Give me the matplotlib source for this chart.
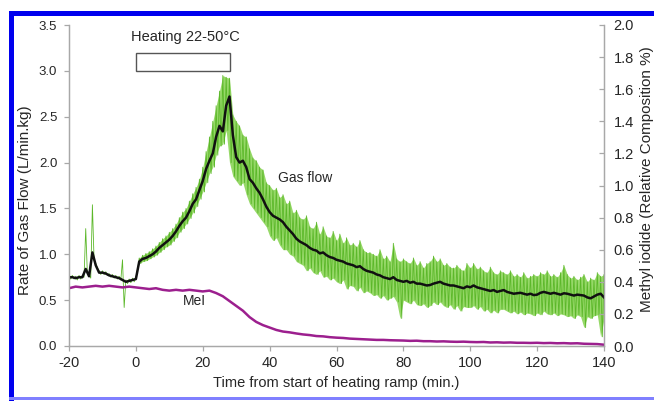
import numpy as np
import matplotlib
matplotlib.use('Agg')
import matplotlib.pyplot as plt
from matplotlib.patches import Rectangle

plt.rcParams['font.family'] = ['Liberation Sans', 'DejaVu Sans']
plt.rcParams['axes.unicode_minus'] = False

# time axis (min), 1-min steps from -20 to 140
t = np.arange(-20, 141)

# smoothed gas flow (black), L/min.kg
gas_smooth = [
    0.75, 0.75, 0.74, 0.75, 0.75, 0.84, 0.76, 1.02, 0.88, 0.80,
    0.80, 0.79, 0.77, 0.76, 0.75, 0.74, 0.72, 0.70, 0.71, 0.72,
    0.73, 0.92, 0.95, 0.96, 0.98, 1.00, 1.03, 1.07, 1.10, 1.13,
    1.16, 1.20, 1.25, 1.31, 1.36, 1.40, 1.47, 1.55, 1.60, 1.70,
    1.80, 1.93, 2.02, 2.10, 2.28, 2.40, 2.34, 2.62, 2.72, 2.30,
    2.06, 2.00, 2.02, 1.95, 1.82, 1.78, 1.72, 1.67, 1.60, 1.52,
    1.46, 1.42, 1.40, 1.38, 1.35, 1.30, 1.26, 1.22, 1.17, 1.14,
    1.12, 1.10, 1.07, 1.05, 1.04, 1.01, 1.02, 0.99, 0.97, 0.96,
    0.94, 0.93, 0.92, 0.90, 0.89, 0.88, 0.86, 0.87, 0.84, 0.82,
    0.81, 0.80, 0.78, 0.77, 0.75, 0.74, 0.73, 0.75, 0.72, 0.71,
    0.70, 0.71, 0.69, 0.70, 0.68, 0.68, 0.67, 0.66, 0.665, 0.68,
    0.69, 0.70, 0.68, 0.67, 0.66, 0.66, 0.65, 0.64, 0.63, 0.65,
    0.64, 0.66, 0.64, 0.63, 0.62, 0.61, 0.60, 0.61, 0.59, 0.60,
    0.61, 0.59, 0.58, 0.57, 0.575, 0.58, 0.57, 0.56, 0.57, 0.555,
    0.56, 0.58, 0.59, 0.58, 0.57, 0.58, 0.57, 0.56, 0.575, 0.57,
    0.56, 0.55, 0.56, 0.555, 0.55, 0.53, 0.52, 0.54, 0.56, 0.57, 0.53,
]

# raw gas flow (green): local highs at each minute, lows half a minute later
gas_hi = [
    0.77, 0.77, 0.76, 0.77, 0.77, 1.28, 0.78, 1.54, 0.90, 0.82,
    0.82, 0.81, 0.79, 0.78, 0.77, 0.76, 0.94, 0.72, 0.73, 0.74,
    0.75, 0.96, 0.99, 1.01, 1.03, 1.06, 1.09, 1.13, 1.17, 1.20,
    1.24, 1.28, 1.33, 1.40, 1.46, 1.50, 1.58, 1.66, 1.73, 1.82,
    1.95, 2.12, 2.28, 2.45, 2.62, 2.78, 2.95, 2.93, 2.92, 2.52,
    2.45, 2.40, 2.30, 2.28, 2.15, 2.05, 2.02, 1.95, 1.92, 1.78,
    1.75, 1.70, 1.72, 1.62, 1.65, 1.55, 1.58, 1.45, 1.48, 1.40,
    1.38, 1.42, 1.30, 1.28, 1.35, 1.22, 1.30, 1.20, 1.18, 1.25,
    1.15, 1.22, 1.12, 1.18, 1.10, 1.12, 1.08, 1.15, 1.05, 1.02,
    1.02, 1.00, 0.98, 1.05, 0.95, 0.98, 0.92, 1.12, 0.95, 0.92,
    0.95, 0.92, 0.90, 0.96, 0.88, 0.92, 0.85, 0.90, 0.92, 0.98,
    0.92, 0.95, 0.88, 0.90, 0.86, 0.85, 0.88, 0.84, 0.82, 0.90,
    0.85, 0.90, 0.84, 0.86, 0.82, 0.80, 0.86, 0.80, 0.78, 0.82,
    0.80, 0.78, 0.82, 0.76, 0.78, 0.75, 0.80, 0.74, 0.76, 0.78,
    0.76, 0.80, 0.78, 0.82, 0.76, 0.78, 0.75, 0.80, 0.88, 0.78,
    0.74, 0.76, 0.72, 0.75, 0.78, 0.70, 0.74, 0.72, 0.80, 0.76, 0.78,
]
gas_lo = [
    0.73, 0.73, 0.72, 0.73, 0.75, 0.78, 0.74, 0.93, 0.85, 0.78,
    0.78, 0.77, 0.75, 0.74, 0.73, 0.72, 0.42, 0.68, 0.69, 0.70,
    0.82, 0.90, 0.92, 0.93, 0.95, 0.97, 0.99, 1.02, 1.05, 1.08,
    1.10, 1.14, 1.18, 1.24, 1.28, 1.33, 1.39, 1.45, 1.52, 1.60,
    1.68, 1.78, 1.88, 1.95, 2.08, 2.18, 2.20, 2.35, 2.00, 1.85,
    1.80, 1.75, 1.78, 1.65, 1.55, 1.50, 1.45, 1.40, 1.35, 1.30,
    1.20, 1.15, 1.18, 1.10, 1.05, 1.05, 1.00, 0.98, 0.92, 0.90,
    0.88, 0.82, 0.85, 0.80, 0.78, 0.82, 0.75, 0.76, 0.72, 0.74,
    0.70, 0.68, 0.72, 0.62, 0.66, 0.65, 0.60, 0.64, 0.58, 0.60,
    0.58, 0.55, 0.56, 0.52, 0.55, 0.50, 0.52, 0.54, 0.48, 0.30,
    0.50, 0.48, 0.46, 0.50, 0.45, 0.44, 0.46, 0.42, 0.44, 0.48,
    0.45, 0.48, 0.44, 0.42, 0.45, 0.40, 0.44, 0.38, 0.43, 0.42,
    0.42, 0.44, 0.40, 0.43, 0.38, 0.40, 0.36, 0.39, 0.36, 0.40,
    0.40, 0.38, 0.36, 0.38, 0.35, 0.37, 0.34, 0.36, 0.35, 0.33,
    0.36, 0.34, 0.38, 0.35, 0.34, 0.36, 0.33, 0.35, 0.34, 0.32,
    0.33, 0.30, 0.34, 0.32, 0.20, 0.32, 0.30, 0.33, 0.34, 0.10, 0.30,
]

# methyl iodide (relative composition %), 2-min steps
t_mei = np.arange(-20, 141, 2)
mei = [
    0.360, 0.370, 0.365, 0.370, 0.375, 0.370, 0.375, 0.370, 0.365, 0.370,
    0.365, 0.360, 0.355, 0.360, 0.350, 0.345, 0.350, 0.345, 0.350, 0.345,
    0.340, 0.345, 0.330, 0.310, 0.280, 0.250, 0.220, 0.180, 0.150, 0.130,
    0.115, 0.100, 0.090, 0.085, 0.078, 0.072, 0.068, 0.062, 0.060, 0.055,
    0.052, 0.050, 0.046, 0.044, 0.042, 0.040, 0.038, 0.038, 0.036, 0.035,
    0.034, 0.032, 0.033, 0.030, 0.030, 0.028, 0.029, 0.027, 0.026, 0.027,
    0.025, 0.024, 0.025, 0.022, 0.023, 0.021, 0.022, 0.020, 0.020, 0.019,
    0.020, 0.018, 0.019, 0.017, 0.018, 0.016, 0.017, 0.014, 0.013, 0.012,
    0.008,
]

# zigzag raw trace: high at t, low at t + 0.5
t_raw = np.ravel(np.column_stack([t, t + 0.5]))
gas_raw = np.ravel(np.column_stack([gas_hi, gas_lo]))

W, H = 654, 401
fig = plt.figure(figsize=(6.54, 4.01), dpi=100)
fig.patch.set_facecolor('white')
ax = fig.add_axes([69 / W, 1 - 346 / H, (604 - 69) / W, (346 - 25) / H])
ax2 = ax.twinx()

spine_c = '#a8a8a8'
txt_c = '#262626'

ax.fill_between(t, gas_lo, gas_hi, where=(t >= 0), color='#7ccf42',
                alpha=0.8, lw=0, zorder=1)
ax.plot(t_raw, gas_raw, color='#5cb82a', lw=0.6, zorder=2)
ax.plot(t, gas_smooth, color='#111111', lw=1.8, zorder=3)
ax2.plot(t_mei, mei, color='#9c1f8e', lw=1.8)

ax.set_xlim(-20, 140)
ax.set_ylim(0, 3.5)
ax2.set_ylim(0, 2.0)
ax.set_xticks(np.arange(-20, 141, 20))
ax.set_yticks(np.arange(0, 3.51, 0.5))
ax.set_yticklabels([f'{v:.1f}' for v in np.arange(0, 3.51, 0.5)])
ax2.set_yticks(np.arange(0, 2.01, 0.2))
ax2.set_yticklabels([f'{v:.1f}' for v in np.arange(0, 2.01, 0.2)])

for a in (ax, ax2):
    a.spines['top'].set_visible(False)
    for s in ('left', 'right', 'bottom'):
        a.spines[s].set_color(spine_c)
        a.spines[s].set_linewidth(0.9)
    a.patch.set_alpha(0)
ax.tick_params(axis='y', colors=spine_c, labelcolor=txt_c, labelsize=9.5,
               length=3.5, width=0.9, direction='out', pad=5)
ax.tick_params(axis='x', colors=spine_c, labelcolor=txt_c, labelsize=10.5,
               length=3.5, width=0.9, direction='out', pad=4)
ax2.tick_params(axis='y', colors=spine_c, labelcolor=txt_c, labelsize=10.5,
                length=3.5, width=0.9, direction='in', pad=7)

# heating period box
ax.add_patch(Rectangle((0, 3.0), 28, 0.19, facecolor='white',
                       edgecolor='#555555', lw=1.0, zorder=4))
ax.text(14.8, 3.37, 'Heating 22-50°C', ha='center', va='center',
        fontsize=10.5, color=txt_c)
ax.text(42.5, 1.83, 'Gas flow', ha='left', va='center', fontsize=10,
        color=txt_c)
ax.text(14, 0.49, 'MeI', ha='left', va='center', fontsize=10, color=txt_c)

fig.text(336 / W, 1 - 383 / H, 'Time from start of heating ramp (min.)',
         ha='center', va='center', fontsize=10.5, color=txt_c)
fig.text(25 / W, 1 - 200 / H, 'Rate of Gas Flow (L/min.kg)', rotation=90,
         ha='center', va='center', fontsize=11, color=txt_c)
fig.text(647 / W, 1 - 179 / H, 'Methyl iodide (Relative Composition %)',
         rotation=90, ha='center', va='center', fontsize=11, color=txt_c)

# blue frame
fig.add_artist(Rectangle((9 / W, 1 - 16 / H), 1 - 9 / W, 4.5 / H,
                         transform=fig.transFigure, color='#0000ee', lw=0))
fig.add_artist(Rectangle((9 / W, 0), 5 / W, 1 - 12 / H,
                         transform=fig.transFigure, color='#0000ee', lw=0))
fig.add_artist(Rectangle((9 / W, 1.5 / H), 1 - 9 / W, 2.5 / H,
                         transform=fig.transFigure, color='#8080ff', lw=0))

fig.savefig('out.png', dpi=100)
